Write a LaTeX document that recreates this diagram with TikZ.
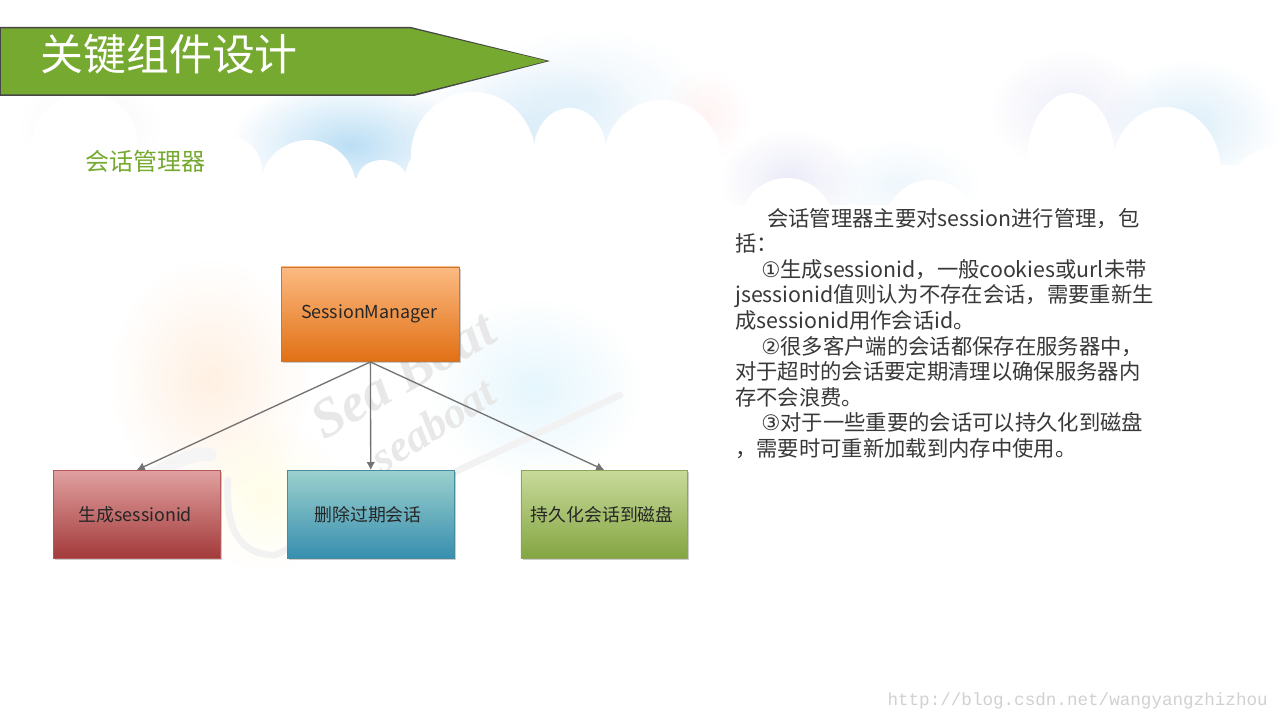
\documentclass[tikz,border=0pt]{standalone}
\usepackage{fontspec}
\usetikzlibrary{fadings,shadows,arrows.meta}
\setmainfont{Noto Sans CJK SC}
\newfontfamily\cnf{Noto Sans CJK SC}
\newfontfamily\monof{Liberation Mono}
\newfontfamily\djvu{DejaVu Sans}
\newfontfamily\lserif{Liberation Serif}
\definecolor{bannergreen}{RGB}{118,169,48}
\definecolor{skyblue}{RGB}{165,212,242}
\definecolor{skylilac}{RGB}{205,205,240}
\definecolor{smd}{RGB}{200,120,50}\definecolor{smt}{RGB}{252,186,130}\definecolor{smb}{RGB}{225,112,20}
\definecolor{gend}{RGB}{178,90,90}\definecolor{gent}{RGB}{225,160,160}\definecolor{genb}{RGB}{163,58,58}
\definecolor{deld}{RGB}{70,140,160}\definecolor{delt}{RGB}{155,208,205}\definecolor{delb}{RGB}{55,142,175}
\definecolor{perd}{RGB}{140,165,90}\definecolor{pert}{RGB}{200,218,155}\definecolor{perb}{RGB}{132,165,65}
\tikzfading[name=softglow,inner color=transparent!0,outer color=transparent!100]
\tikzset{
 x=0.75pt,y=-0.75pt,
 glow/.style={path fading=softglow},
 cloud/.style={fill=white,draw=none},
 boxb/.style={draw=#1,line width=0.6pt,anchor=north west,inner sep=0pt,
   drop shadow={shadow xshift=1.2pt,shadow yshift=-1.2pt,opacity=0.2,fill=black}},
 conn/.style={draw=black!55,line width=1pt,-{Latex[length=6pt,width=6.5pt]}},
 boxlabel/.style={font=\cnf\fontsize{13.4}{15}\selectfont,text=black!85},
 para/.style={anchor=north west,inner sep=0pt,align=left,text=black!78,font=\cnf\fontsize{16}{19.17}\selectfont},
 wmark/.style={font=\lserif\bfseries\itshape\fontsize{#1}{#1}\selectfont,text=black!9,inner sep=0pt},
}
\begin{document}
\begin{tikzpicture}
\useasboundingbox (0,0) rectangle (1280,720);
\fill[white] (0,0) rectangle (1280,720);
% sky glows
\fill[skyblue,opacity=.75,glow] (230,80) rectangle (470,210);
\fill[skyblue,opacity=.35,glow] (400,60) rectangle (650,200);
\fill[skyblue,opacity=.22,glow] (470,30) rectangle (700,160);
\fill[red!18,opacity=.25,glow] (660,70) rectangle (750,160);
\fill[black!8,opacity=.4,glow] (20,80) rectangle (160,170);
\fill[skylilac,opacity=.35,glow] (990,50) rectangle (1150,170);
\fill[skyblue,opacity=.38,glow] (1100,60) rectangle (1280,190);
\fill[skylilac,opacity=.4,glow] (720,130) rectangle (860,230);
\fill[skyblue,opacity=.18,glow] (820,140) rectangle (980,230);
% clouds
\foreach \cx/\cy/\rx/\ry in {
 85/140/52/46, 232/172/30/35, 308/188/48/48, 382/180/25/20, 449/180/44/43,
 473/155/62/63, 570/150/36/42, 662/158/58/58,
 787/225/47/47, 860/250/40/40, 930/225/45/45, 1071/160/44/67, 1166/172/55/65, 1270/195/42/46}{
 \fill[cloud] (\cx,\cy) ellipse[x radius=\rx,y radius=\ry];
}
\fill[white] (200,178) rectangle (720,260);
\fill[white] (720,205) rectangle (1280,260);
\fill[white] (500,150) rectangle (720,180);
\fill[white] (1030,165) rectangle (1280,210);
% faint logo
\fill[orange!35,opacity=.32,glow] (110,260) rectangle (310,500);
\fill[cyan!25,opacity=.4,glow] (430,300) rectangle (640,480);
\fill[yellow!30,opacity=.3,glow] (190,420) rectangle (340,570);
\draw[black!4,line width=10pt,line cap=round] (110,500) .. controls (160,470) and (190,450) .. (210,455);
\draw[black!5,line width=5pt,line cap=round] (228,480) .. controls (225,530) and (240,555) .. (275,555) -- (330,530) -- (620,395);
\node[rotate=30,wmark=41] (wm1) at (403,375) {Sea Boat};
\node[rotate=32,wmark=33] (wm2) at (433,425) {seaboat};
% banner
\fill[black!72] (0,27) -- (411,27) -- (550,61) -- (414,96) -- (0,96) -- cycle;
\fill[bannergreen] (1,28.5) -- (411,28.5) -- (547,61) -- (413,94.5) -- (1,94.5) -- cycle;
\node[anchor=west,inner sep=0pt,text=white,font=\cnf\fontsize{32.2}{36}\selectfont] (title) at (40,54) {关键组件设计};
\node[anchor=west,inner sep=0pt,text=bannergreen,font=\cnf\fontsize{18}{20}\selectfont] (sub) at (85,161) {会话管理器};
% boxes
\node[boxb=smd,minimum width=133.5pt,minimum height=71pt,top color=smt,bottom color=smb] (sm) at (281,266.5) {};
\node[boxlabel] (smtxt) at ([xshift=-1pt]sm.center) {SessionManager};
\node[boxb=gend,minimum width=125pt,minimum height=66pt,top color=gent,bottom color=genb] (gen) at (53,470) {};
\node[boxlabel] (gentxt) at ([xshift=-1pt]gen.center) {生成sessionid};
\node[boxb=deld,minimum width=125pt,minimum height=66pt,top color=delt,bottom color=delb] (del) at (287,470) {};
\node[boxlabel] (deltxt) at ([xshift=-2pt]del.center) {删除过期会话};
\node[boxb=perd,minimum width=125pt,minimum height=66pt,top color=pert,bottom color=perb] (per) at (520.5,470) {};
\node[boxlabel] (pertxt) at ([xshift=-1.5pt]per.center) {持久化会话到磁盘};
\draw[conn] (sm.south) -- (gen.north);
\draw[conn] (sm.south) -- (del.north);
\draw[conn] (sm.south) -- (per.north);
% paragraph
\node[para] (txt) at (735,208) {\hspace*{24pt}会话管理器主要对session进行管理，包\\括：\\
\hspace*{19.5pt}{\djvu ①}生成sessionid，一般cookies或url未带\\
jsessionid值则认为不存在会话，需要重新生\\
成sessionid用作会话id。\\
\hspace*{19.5pt}{\djvu ②}很多客户端的会话都保存在服务器中，\\
对于超时的会话要定期清理以确保服务器内\\
存不会浪费。\\
\hspace*{19.5pt}{\djvu ③}对于一些重要的会话可以持久化到磁盘\\
，需要时可重新加载到内存中使用。};
\node[anchor=east,inner sep=0pt,text=black!18,font=\monof\fontsize{13.2}{15}\selectfont] (url) at (1268,701) {http://blog.csdn.net/wangyangzhizhou};
\end{tikzpicture}
\end{document}
